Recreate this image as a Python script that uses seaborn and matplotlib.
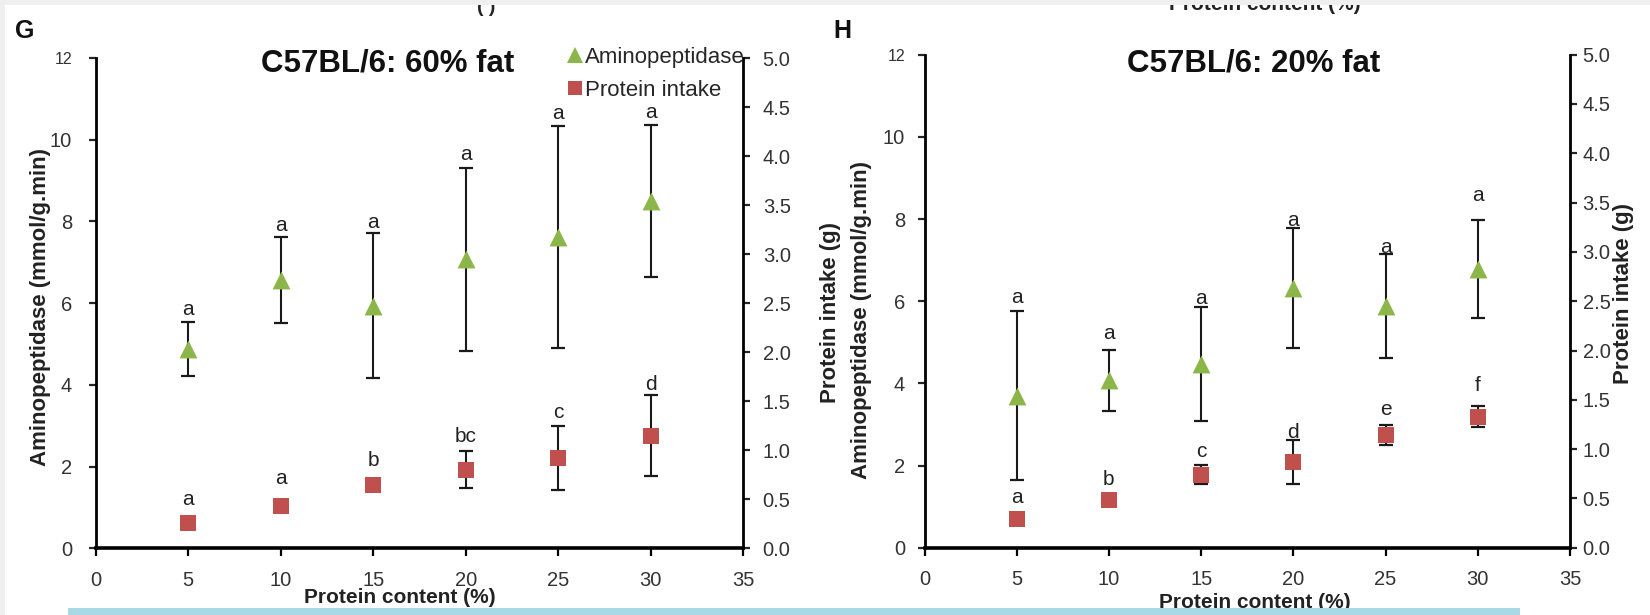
import matplotlib
matplotlib.use("Agg")
import matplotlib.pyplot as plt
import seaborn as sns
import pandas as pd
from matplotlib.patches import Rectangle
from matplotlib.lines import Line2D

# ---------------- data ----------------
protein_content = [5, 10, 15, 20, 25, 30]

# Panel G : C57BL/6 60% fat
g_amino = [4.88, 6.57, 5.94, 7.07, 7.62, 8.50]
g_amino_err = [0.67, 1.06, 1.77, 2.24, 2.72, 1.87]
g_intake = [0.26, 0.43, 0.65, 0.80, 0.92, 1.15]
g_intake_err = [0.0, 0.0, 0.06, 0.19, 0.33, 0.41]
g_amino_letters = ["a", "a", "a", "a", "a", "a"]
g_amino_letter_y = [5.85, 7.89, 7.98, 9.63, 10.64, 10.66]
g_intake_letters = ["a", "a", "b", "bc", "c", "d"]
g_intake_letter_y = [0.50, 0.71, 0.90, 1.14, 1.38, 1.67]

# Panel H : C57BL/6 20% fat
h_amino = [3.70, 4.07, 4.47, 6.32, 5.89, 6.78]
h_amino_err = [2.05, 0.75, 1.39, 1.46, 1.27, 1.19]
h_intake = [0.29, 0.48, 0.74, 0.87, 1.14, 1.33]
h_intake_err = [0.0, 0.0, 0.095, 0.22, 0.10, 0.11]
h_amino_letters = ["a", "a", "a", "a", "a", "a"]
h_amino_letter_y = [6.10, 5.21, 6.07, 7.96, 7.31, 8.57]
h_intake_letters = ["a", "b", "c", "d", "e", "f"]
h_intake_letter_y = [0.51, 0.69, 0.98, 1.17, 1.40, 1.65]

x_ticks = [0, 5, 10, 15, 20, 25, 30, 35]
left_ticks = [0, 2, 4, 6, 8, 10, 12]
right_ticks = [0.0, 0.5, 1.0, 1.5, 2.0, 2.5, 3.0, 3.5, 4.0, 4.5, 5.0]

titles = ["C57BL/6: 60% fat", "C57BL/6: 20% fat"]
panel_letters = ["G", "H"]
xlabel = "Protein content (%)"
ylabel_left = "Aminopeptidase (mmol/g.min)"
ylabel_right = "Protein intake (g)"
legend_labels = ["Aminopeptidase", "Protein intake"]

GREEN = "#8DB64A"
RED = "#C0504D"
FONT = ["Liberation Sans", "DejaVu Sans"]

sns.set_style("white")
plt.rcParams["font.family"] = FONT

W, H = 1650, 615
fig = plt.figure(figsize=(W / 100, H / 100), dpi=100)
fig.patch.set_facecolor("white")


def px_rect(x0, x1, ytop, ybot):
    return [x0 / W, 1 - ybot / H, (x1 - x0) / W, (ybot - ytop) / H]


panels = [
    dict(rect=px_rect(95.8, 743.3, 58.0, 548.3),
         amino=g_amino, amino_err=g_amino_err, intake=g_intake, intake_err=g_intake_err,
         al=g_amino_letters, aly=g_amino_letter_y, il=g_intake_letters, ily=g_intake_letter_y,
         title_xy=(388, 64), letter_xy=(15, 31),
         ylab_l=(-0.069, 0.492), ylab_r=(1.118, 0.48), xlab=(0.47, -0.08),
         lpad=12, rpad=9),
    dict(rect=px_rect(924.5, 1570.0, 54.7, 547.7),
         amino=h_amino, amino_err=h_amino_err, intake=h_intake, intake_err=h_intake_err,
         al=h_amino_letters, aly=h_amino_letter_y, il=h_intake_letters, ily=h_intake_letter_y,
         title_xy=(1254, 64), letter_xy=(833, 31),
         ylab_l=(-0.082, 0.462), ylab_r=(1.066, 0.515), xlab=(0.512, -0.092),
         lpad=9, rpad=4),
]

for i, p in enumerate(panels):
    ax = fig.add_axes(p["rect"])
    ax2 = ax.twinx()
    df = pd.DataFrame({"protein": protein_content, "amino": p["amino"],
                       "intake": p["intake"]})

    ax.errorbar(protein_content, p["amino"], yerr=p["amino_err"], fmt="none",
                ecolor="#1a1a1a", elinewidth=1.5, capsize=5, capthick=1.6, zorder=2)
    sns.scatterplot(data=df, x="protein", y="amino", marker="^", s=165,
                    color=GREEN, edgecolor=GREEN, linewidth=0, ax=ax, zorder=3)
    has_err = [e > 0 for e in p["intake_err"]]
    ax2.errorbar([x for x, h in zip(protein_content, has_err) if h],
                 [v for v, h in zip(p["intake"], has_err) if h],
                 yerr=[e for e, h in zip(p["intake_err"], has_err) if h],
                 fmt="none", ecolor="#1a1a1a", elinewidth=1.5, capsize=5, capthick=1.6,
                 zorder=2)
    sns.scatterplot(data=df, x="protein", y="intake", marker="s", s=125,
                    color=RED, edgecolor=RED, linewidth=0, ax=ax2, zorder=3)

    for x, t, y in zip(protein_content, p["al"], p["aly"]):
        ax.text(x, y, t, ha="center", va="center", fontsize=15, color="#222222")
    for x, t, y in zip(protein_content, p["il"], p["ily"]):
        ax2.text(x, y, t, ha="center", va="center", fontsize=15, color="#222222")

    ax.set_xlim(0, 35)
    ax.set_ylim(0, 12)
    ax2.set_ylim(0, 5)
    ax.set_xticks(x_ticks)
    ax.set_xticklabels([str(v) for v in x_ticks])
    ax.set_yticks(left_ticks)
    ax.set_yticklabels([str(v) for v in left_ticks])
    ax2.set_yticks(right_ticks)
    ax2.set_yticklabels([f"{v:.1f}" for v in right_ticks])

    for a in (ax, ax2):
        a.set_facecolor("none")
        a.spines["top"].set_visible(False)
        for s in a.spines.values():
            s.set_color("black")
            s.set_linewidth(2.0)
        a.spines["bottom"].set_linewidth(2.6)
    ax.spines["right"].set_visible(False)
    ax2.spines["left"].set_visible(False)
    ax2.spines["bottom"].set_visible(False)

    ax.tick_params(axis="x", direction="out", length=6, width=1.6, pad=10,
                   labelsize=14.5, colors="black", bottom=True, labelcolor="#333333")
    ax.tick_params(axis="y", direction="out", length=5, width=1.6, pad=p["lpad"],
                   labelsize=14.5, left=True, labelcolor="#333333")
    ax2.tick_params(axis="y", direction="out", length=5, width=1.6, pad=p["rpad"],
                    labelsize=14.5, right=True, labelcolor="#333333")
    ax.get_yticklabels()[-1].set_fontsize(11.5)

    ax.set_xlabel(xlabel, fontsize=15, fontweight="bold", color="#222222")
    ax.xaxis.set_label_coords(*p["xlab"])
    ax.set_ylabel(ylabel_left, fontsize=16, fontweight="bold", color="#222222")
    ax.yaxis.set_label_coords(*p["ylab_l"])
    ax2.set_ylabel(ylabel_right, fontsize=16, fontweight="bold", color="#222222")
    ax2.yaxis.set_label_coords(*p["ylab_r"])

    fig.text(p["title_xy"][0] / W, 1 - p["title_xy"][1] / H, titles[i],
             ha="center", va="center", fontsize=22.5, fontweight="bold", color="#111111")
    fig.text(p["letter_xy"][0] / W, 1 - p["letter_xy"][1] / H, panel_letters[i],
             ha="left", va="center", fontsize=18, fontweight="bold", color="#111111")

    if i == 0:
        handles = [Line2D([], [], marker="^", ls="none", color=GREEN, ms=11, mew=0),
                   Line2D([], [], marker="s", ls="none", color=RED, ms=9.5, mew=0)]
        fig.legend(handles, legend_labels, loc="upper left",
                   bbox_to_anchor=(567 / W, 1 - 47 / H), frameon=False,
                   fontsize=16, handlelength=0.7, handletextpad=0.12,
                   labelspacing=0.55, borderpad=0, borderaxespad=0)

# cut-off text from the panel above
fig.text(1265 / W, 1 - 10 / H, xlabel, ha="center", va="baseline",
         fontsize=15, fontweight="bold", color="#222222")
fig.text(486 / W, 1 - 12 / H, "( )", ha="center", va="baseline",
         fontsize=14, fontweight="bold", color="#222222")

# page decorations
fig.patches.append(Rectangle((0, 1 - 5 / H), 1, 5 / H, transform=fig.transFigure,
                             facecolor="#EFEFEF", edgecolor="none", zorder=10))
fig.patches.append(Rectangle((0, 0), 5 / W, 1, transform=fig.transFigure,
                             facecolor="#EFEFEF", edgecolor="none", zorder=10))
fig.patches.append(Rectangle((68 / W, 0), (1520 - 68) / W, 7 / H,
                             transform=fig.transFigure, facecolor="#A7DAE4",
                             edgecolor="none", zorder=10))

fig.savefig("out.png", dpi=100, facecolor="white")
